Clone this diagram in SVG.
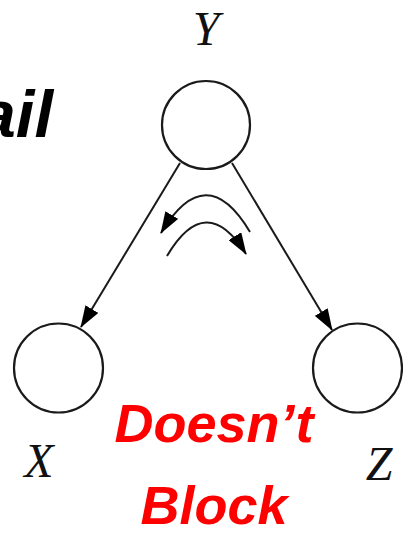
<svg xmlns="http://www.w3.org/2000/svg" width="403" height="534" viewBox="0 0 403 534">
  <style>
    .node { fill: #ffffff; stroke: #1a1a1a; stroke-width: 2.2; }
    .edge { fill: none; stroke: #1a1a1a; stroke-width: 2; }
    .var { font-family: "Liberation Serif", "DejaVu Serif", serif; font-style: italic; font-size: 48px; fill: #111111; }
    .note { font-family: "Liberation Sans", Arial, sans-serif; font-weight: bold; font-style: italic; font-size: 54px; fill: #ff0000; }
    .title { font-family: "Liberation Sans", Arial, sans-serif; font-weight: bold; font-style: italic; font-size: 67px; fill: #000000; }
  </style>
  <defs>
    <marker id="arrowBig" viewBox="0 0 22 15" refX="21" refY="7.5" markerWidth="22" markerHeight="15" markerUnits="userSpaceOnUse" orient="auto">
      <path d="M0,0 L22,7.5 L0,15 Z" fill="#000000"/>
    </marker>
  </defs>
  <rect width="403" height="534" fill="#ffffff"/>

  <!-- heading fragment -->
  <text class="title" x="53" y="137" text-anchor="end">ail</text>

  <!-- connectors -->
  <g id="connectors">
    <line class="edge" x1="180" y1="163" x2="81" y2="327" marker-end="url(#arrowBig)"/>
    <line class="edge" x1="232" y1="163" x2="332" y2="330" marker-end="url(#arrowBig)"/>
    <path class="edge" d="M250,232 Q206,158 161,233" marker-end="url(#arrowBig)"/>
    <path class="edge" d="M167,256 Q206,190 246,254" marker-end="url(#arrowBig)"/>
  </g>

  <g id="node-Y">
    <circle class="node" cx="206" cy="125" r="44"/>
    <text class="var" x="206" y="45" text-anchor="middle">Y</text>
  </g>
  <g id="node-X">
    <circle class="node" cx="58.5" cy="368" r="44.5"/>
    <text class="var" x="39" y="477" text-anchor="middle">X</text>
  </g>
  <g id="node-Z">
    <circle class="node" cx="357.5" cy="368" r="44.5"/>
    <text class="var" x="379" y="480" text-anchor="middle">Z</text>
  </g>

  <g id="label">
    <text class="note" x="214" y="442" text-anchor="middle">Doesn’t</text>
    <text class="note" x="214" y="524" text-anchor="middle">Block</text>
  </g>
</svg>
